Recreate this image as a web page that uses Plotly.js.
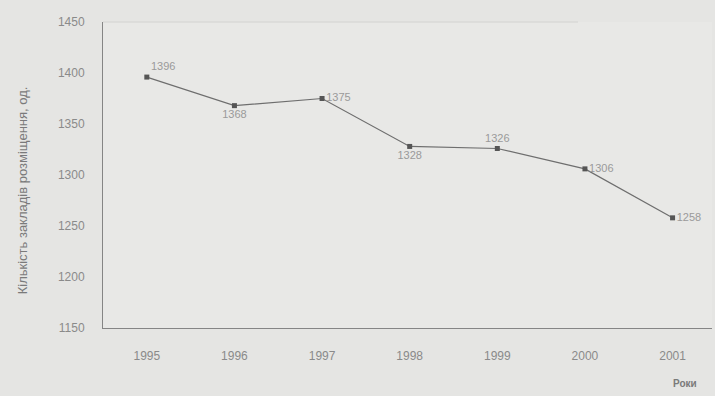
<!DOCTYPE html>
<html>
<head>
<meta charset="utf-8">
<script src="https://cdn.plot.ly/plotly-3.0.1.min.js"></script>
<style>
  html, body { margin: 0; padding: 0; background: #e5e5e3; }
  #chart { width: 715px; height: 396px; }
</style>
</head>
<body>
<div id="chart"></div>
<script>
// Number of accommodation establishments by year
const years = ['1995', '1996', '1997', '1998', '1999', '2000', '2001'];
const counts = [1396, 1368, 1375, 1328, 1326, 1306, 1258];
const labelPositions = ['top right', 'bottom center', 'middle right', 'bottom center', 'top center', 'middle right', 'middle right'];

const trace = {
  x: years,
  y: counts,
  type: 'scatter',
  mode: 'lines+markers+text',
  text: counts.map(String),
  textposition: labelPositions,
  textfont: { family: 'Liberation Sans, Arial, sans-serif', size: 11, color: '#9a9a9a' },
  line: { color: '#6e6e6e', width: 1.2 },
  marker: { color: '#555555', size: 5, symbol: 'square' },
  cliponaxis: false,
  hoverinfo: 'x+y'
};

const layout = {
  width: 715,
  height: 396,
  margin: { l: 103, r: 3, t: 22, b: 68 },
  paper_bgcolor: '#e5e5e3',
  plot_bgcolor: '#e8e8e6',
  showlegend: false,
  font: { family: 'Liberation Sans, Arial, sans-serif', color: '#8a8a8a' },
  xaxis: {
    type: 'category',
    range: [-0.5, 6.45],
    showgrid: false,
    zeroline: false,
    showline: true,
    linecolor: '#858585',
    linewidth: 1,
    ticks: '',
    tickfont: { size: 12, color: '#8a8a8a' },
    ticklabelstandoff: 17
  },
  yaxis: {
    range: [1150, 1450],
    dtick: 50,
    showgrid: false,
    zeroline: false,
    showline: true,
    linecolor: '#858585',
    linewidth: 1,
    ticks: '',
    tickfont: { size: 12, color: '#8a8a8a' },
    ticklabelstandoff: 15
  },
  shapes: [
    { type: 'line', xref: 'paper', yref: 'paper', x0: 0, x1: 0.78, y0: 1, y1: 1,
      line: { color: '#d2d2d0', width: 1 } }
  ],
  annotations: [
    // y-axis caption, placed slightly below the plot centre
    { text: 'Кількість закладів розміщення, од.', xref: 'paper', yref: 'paper',
      x: 0, xshift: -81, y: 0.45, textangle: -90, showarrow: false,
      xanchor: 'center', yanchor: 'middle',
      font: { size: 13, color: '#7a7a7a' } },
    { text: '<b>Роки</b>', xref: 'paper', yref: 'paper', x: 0.955, y: 0,
      yshift: -55, showarrow: false, xanchor: 'center', yanchor: 'middle',
      font: { size: 10, color: '#7a7a7a' } }
  ]
};

Plotly.newPlot('chart', [trace], layout, { displayModeBar: false, staticPlot: true });
</script>
</body>
</html>
